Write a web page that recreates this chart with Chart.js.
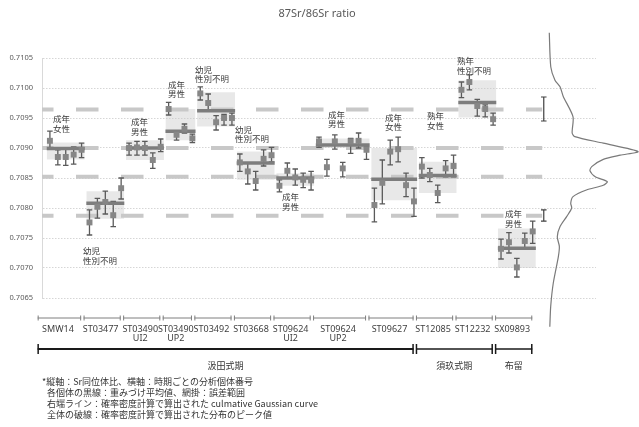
<!DOCTYPE html>
<html>
<head>
<meta charset="utf-8">
<script src="https://cdn.jsdelivr.net/npm/chart.js@4/dist/chart.umd.min.js"></script>
<style>
  html, body { margin: 0; padding: 0; background: #fff; }
  canvas { display: block; }
</style>
</head>
<body>
<canvas id="srChart" width="639" height="427"></canvas>
<script>
'use strict';

const chartTitle = '87Sr/86Sr ratio';
const yMin = 0.7065;
const yMax = 0.7105;
const yStep = 0.0005;

// specimens (one bracket each under the plot)
const groupNames = [['SMW14'], ['ST03477'], ['ST03490', 'UI2'], ['ST03490', 'UP2'], ['ST03492'], ['ST03668'],
    ['ST09624', 'UI2'], ['ST09624', 'UP2'], ['ST09627'], ['ST12085'], ['ST12232'], ['SX09893']];
const groupNotes = [['成年', '女性'], ['幼児', '性別不明'], ['成年', '男性'], ['成年', '男性'], ['幼児', '性別不明'],
    ['幼児', '性別不明'], ['成年', '男性'], ['成年', '男性'], ['成年', '女性'], ['熟年', '女性'], ['熟年', '性別不明'], ['成年', '男性']];
const groupSizes = [5, 5, 5, 4, 5, 5, 5, 7, 6, 5, 5, 5];

const periodNames = ['汲田式期', '須玖式期', '布留'];
const periodGroupCount = [9, 2, 1];

// each analysed sample, in order
const ratio = [
    0.70912, 0.70885, 0.70885, 0.70889, 0.70897,
    0.70776, 0.70802, 0.70810, 0.70788, 0.70833,
    0.70900, 0.70901, 0.70900, 0.70880, 0.70902,
    0.70965, 0.70922, 0.70932, 0.70916,
    0.70991, 0.70975, 0.70943, 0.70950, 0.70950,
    0.70876, 0.70861, 0.70845, 0.70882, 0.70888,
    0.70837, 0.70862, 0.70851, 0.70847, 0.70846,
    0.70911, 0.70868, 0.70911, 0.70866, 0.70911, 0.70912, 0.70897,
    0.70805, 0.70842, 0.70894, 0.70898, 0.70838, 0.70811,
    0.70869, 0.70855, 0.70825, 0.70866, 0.70870,
    0.70997, 0.71010, 0.70970, 0.70965, 0.70948,
    0.70732, 0.70743, 0.70701, 0.70745, 0.70761
];
const ratioLow = [
    0.70898, 0.70872, 0.70871, 0.70873, 0.70884,
    0.70755, 0.70783, 0.70790, 0.70769, 0.70815,
    0.70888, 0.70888, 0.70888, 0.70866, 0.70894,
    0.70955, 0.70913, 0.70925, 0.70909,
    0.70980, 0.70961, 0.70930, 0.70938, 0.70938,
    0.70861, 0.70840, 0.70830, 0.70870, 0.70877,
    0.70827, 0.70850, 0.70838, 0.70834, 0.70830,
    0.70901, 0.70853, 0.70898, 0.70852, 0.70891, 0.70900, 0.70881,
    0.70777, 0.70807, 0.70872, 0.70877, 0.70819, 0.70786,
    0.70850, 0.70844, 0.70809, 0.70852, 0.70852,
    0.70984, 0.70997, 0.70953, 0.70952, 0.70938,
    0.70715, 0.70725, 0.70685, 0.70733, 0.70741
];
const ratioHigh = [
    0.70928, 0.70897, 0.70898, 0.70902, 0.70908,
    0.70797, 0.70816, 0.70828, 0.70811, 0.70850,
    0.70908, 0.70911, 0.70911, 0.70892, 0.70915,
    0.70976, 0.70927, 0.70940, 0.70923,
    0.71002, 0.70990, 0.70954, 0.70956, 0.70958,
    0.70890, 0.70875, 0.70861, 0.70897, 0.70901,
    0.70847, 0.70875, 0.70865, 0.70858, 0.70861,
    0.70918, 0.70881, 0.70922, 0.70876, 0.70916, 0.70925, 0.70902,
    0.70833, 0.70880, 0.70913, 0.70918, 0.70858, 0.70833,
    0.70884, 0.70866, 0.70838, 0.70879, 0.70888,
    0.71010, 0.71022, 0.70981, 0.70972, 0.70958,
    0.70748, 0.70759, 0.70716, 0.70758, 0.70778
];

// weighted mean and its range per specimen
const groupMean = [0.70899, 0.70808, 0.70900, 0.70928, 0.70962, 0.70875, 0.70850, 0.70905, 0.70848, 0.70854, 0.70976, 0.70733];
const groupLow = [0.70881, 0.70782, 0.70880, 0.70913, 0.70936, 0.70847, 0.70837, 0.70900, 0.70813, 0.70825, 0.70951, 0.70700];
const groupHigh = [0.70909, 0.70828, 0.70913, 0.70965, 0.70993, 0.70894, 0.70858, 0.70916, 0.70900, 0.70877, 0.71013, 0.70766];

// peaks of the probability density
const peaks = [0.70964, 0.70900, 0.70852, 0.70787];
const peakLow = [0.70945, null, null, 0.70778];
const peakHigh = [0.70985, null, null, 0.70797];

// density curve on the right (relative height)
const densityRatio = [0.71092, 0.71035, 0.71013, 0.71002, 0.70986, 0.70952, 0.70925, 0.70919, 0.70908, 0.70894,
    0.70888, 0.70881, 0.70869, 0.70862, 0.70852, 0.70844, 0.70838, 0.70830, 0.70819, 0.70808, 0.70800,
    0.70786, 0.70769, 0.70752, 0.70736, 0.70719, 0.70675, 0.70636, 0.70602];
const density = [0.003, 0.02, 0.067, 0.124, 0.16, 0.27, 0.26, 0.29, 0.61, 1.0,
    0.80, 0.61, 0.48, 0.46, 0.52, 0.655, 0.61, 0.42, 0.27, 0.244, 0.255,
    0.2, 0.124, 0.093, 0.116, 0.105, 0.048, 0.019, 0.009];

const footNotes = [
    '*縦軸：Sr同位体比、横軸：時期ごとの分析個体番号',
    '各個体の黒線：重みづけ平均値、網掛：誤差範囲',
    '右端ライン：確率密度計算で算出された culmative Gaussian curve',
    '全体の破線：確率密度計算で算出された分布のピーク値'
];

// ---- layout helpers (not data) ----
const starts = [];
let acc = 0;
groupSizes.forEach(function (n) { starts.push(acc); acc += n; });
const lastIndex = acc - 1;
const PEAK_BAR_X = lastIndex + 1.4;
const PEAK_LINE_END = lastIndex + 1.2;
const NOTE_AT = [[0.38, 0.70955], [4.17, 0.70735], [10.24, 0.70950], [14.91, 0.71013], [18.32, 0.71038], [23.38, 0.70938],
    [29.32, 0.70825], [35.13, 0.70963], [42.33, 0.70958], [47.64, 0.70960], [51.43, 0.71052], [57.5, 0.70797]];

const CJK = '"Noto Sans CJK JP", "Noto Sans", sans-serif';

const boxSets = groupMean.map(function (m, g) {
    return {
        xAxisID: 'x',
        data: [{x: starts[g] - 0.4, y: groupHigh[g]}, {x: starts[g] + groupSizes[g] - 0.6, y: groupHigh[g]}],
        fill: {value: groupLow[g]},
        backgroundColor: 'rgba(200,200,200,0.42)',
        borderWidth: 0,
        pointRadius: 0,
        order: 6
    };
});

const meanData = [];
groupMean.forEach(function (m, g) {
    meanData.push({x: starts[g] - 0.4, y: m}, {x: starts[g] + groupSizes[g] - 0.6, y: m}, {x: starts[g], y: null});
});

const errData = [];
ratio.forEach(function (v, i) {
    errData.push({x: i, y: ratioLow[i]}, {x: i, y: ratioHigh[i]}, {x: i, y: null});
    errData.push({x: i - 0.35, y: ratioLow[i]}, {x: i + 0.35, y: ratioLow[i]}, {x: i, y: null});
    errData.push({x: i - 0.35, y: ratioHigh[i]}, {x: i + 0.35, y: ratioHigh[i]}, {x: i, y: null});
});

const peakLineData = [];
const peakBarData = [];
peaks.forEach(function (p, k) {
    peakLineData.push({x: -1, y: p}, {x: PEAK_LINE_END, y: p}, {x: 0, y: null});
    if (peakLow[k] !== null) {
        peakBarData.push({x: PEAK_BAR_X, y: peakLow[k]}, {x: PEAK_BAR_X, y: peakHigh[k]}, {x: 0, y: null});
        peakBarData.push({x: PEAK_BAR_X - 0.35, y: peakLow[k]}, {x: PEAK_BAR_X + 0.35, y: peakLow[k]}, {x: 0, y: null});
        peakBarData.push({x: PEAK_BAR_X - 0.35, y: peakHigh[k]}, {x: PEAK_BAR_X + 0.35, y: peakHigh[k]}, {x: 0, y: null});
    }
});

const decor = {
    id: 'decor',
    afterDraw: function (chart) {
        const ctx = chart.ctx;
        const x = chart.scales.x;
        const y = chart.scales.y;
        ctx.save();

        ctx.font = '11px "Noto Sans", sans-serif';
        ctx.fillStyle = '#595959';
        ctx.textAlign = 'center';
        ctx.textBaseline = 'middle';
        ctx.fillText(chartTitle, 317, 14);

        // notes next to each specimen
        ctx.font = '8.5px ' + CJK;
        ctx.fillStyle = '#3a3a3a';
        ctx.textAlign = 'left';
        ctx.textBaseline = 'top';
        groupNotes.forEach(function (lines, g) {
            const px = x.getPixelForValue(NOTE_AT[g][0]);
            const py = y.getPixelForValue(NOTE_AT[g][1]);
            lines.forEach(function (t, j) { ctx.fillText(t, px, py + j * 9.5); });
        });

        // specimen brackets
        const rowY = 318;
        const segA = [];
        const segB = [];
        ctx.strokeStyle = '#7f7f7f';
        ctx.lineWidth = 1;
        ctx.font = '9px "Noto Sans", sans-serif';
        ctx.fillStyle = '#404040';
        ctx.textAlign = 'center';
        ctx.textBaseline = 'middle';
        groupSizes.forEach(function (n, g) {
            const a = x.getPixelForValue(g === 0 ? x.min - 0.7 : starts[g] - 0.9) + 1.2;
            const b = x.getPixelForValue(starts[g] + n - 0.9) - 1.2;
            segA.push(a);
            segB.push(b);
            ctx.beginPath();
            ctx.moveTo(a, rowY); ctx.lineTo(b, rowY);
            ctx.moveTo(a + 0.5, rowY - 2.5); ctx.lineTo(a + 0.5, rowY + 2.5);
            ctx.moveTo(b - 0.5, rowY - 2.5); ctx.lineTo(b - 0.5, rowY + 2.5);
            ctx.stroke();
            groupNames[g].forEach(function (t, j) {
                ctx.fillText(t, (a + b) / 2 - 1.5, 329 + j * 9.5);
            });
        });

        // period brackets
        const perY = 349;
        let gi = 0;
        ctx.strokeStyle = '#1a1a1a';
        ctx.font = '9px ' + CJK;
        ctx.fillStyle = '#333333';
        periodNames.forEach(function (name, k) {
            const a = segA[gi];
            const b = segB[gi + periodGroupCount[k] - 1];
            gi += periodGroupCount[k];
            ctx.lineWidth = k === 0 ? 2.2 : 1.5;
            ctx.beginPath();
            ctx.moveTo(a, perY); ctx.lineTo(b, perY);
            ctx.stroke();
            ctx.lineWidth = 1.5;
            ctx.beginPath();
            ctx.moveTo(a + 0.5, perY - 5); ctx.lineTo(a + 0.5, perY + 5);
            ctx.moveTo(b - 0.5, perY - 5); ctx.lineTo(b - 0.5, perY + 5);
            ctx.stroke();
            ctx.fillText(name, (a + b) / 2, 366);
        });

        // footnote
        ctx.font = '9px ' + CJK;
        ctx.fillStyle = '#333333';
        ctx.textAlign = 'left';
        footNotes.forEach(function (t, j) {
            ctx.fillText(t, j === 0 ? 42 : 47, 382 + j * 10.7);
        });
        ctx.restore();
    }
};

const srChart = new Chart(document.getElementById('srChart').getContext('2d'), {
    type: 'line',
    data: {
        datasets: boxSets.concat([
            {
                xAxisID: 'x',
                data: peakLineData,
                borderColor: '#c8c8c8',
                borderWidth: 4,
                borderDash: [22.5, 22.5],
                borderDashOffset: 11,
                pointRadius: 0,
                fill: false,
                order: 7
            },
            {
                xAxisID: 'x',
                data: errData,
                borderColor: '#5a5a5a',
                borderWidth: 1.3,
                pointRadius: 0,
                fill: false,
                order: 4
            },
            {
                xAxisID: 'x',
                data: meanData,
                borderColor: '#7d7d7d',
                borderWidth: 3.5,
                pointRadius: 0,
                fill: false,
                order: 3
            },
            {
                xAxisID: 'x',
                data: ratio.map(function (v, i) { return {x: i, y: v}; }),
                showLine: false,
                pointStyle: 'rect',
                pointRadius: 4.2,
                pointBorderWidth: 0,
                pointBackgroundColor: '#868686',
                order: 2
            },
            {
                xAxisID: 'x',
                data: peakBarData,
                borderColor: '#404040',
                borderWidth: 1.2,
                pointRadius: 0,
                fill: false,
                order: 2
            },
            {
                xAxisID: 'xd',
                data: density.map(function (d, i) { return {x: d, y: densityRatio[i]}; }),
                borderColor: '#7a7a7a',
                borderWidth: 1.2,
                pointRadius: 0,
                tension: 0.25,
                fill: false,
                clip: false,
                order: 1
            }
        ])
    },
    options: {
        responsive: false,
        animation: false,
        events: [],
        layout: {padding: {top: 58, right: 43, bottom: 129, left: 0}},
        plugins: {
            legend: {display: false},
            tooltip: {enabled: false},
            title: {display: false}
        },
        scales: {
            x: {type: 'linear', min: -1, max: 69, display: false},
            xd: {type: 'linear', min: -5.698, max: 0.528, display: false},
            y: {
                type: 'linear',
                min: yMin,
                max: yMax,
                afterFit: function (s) {
                    s.width = 42;
                    s.paddingTop = 0;
                    s.paddingBottom = 0;
                },
                ticks: {
                    stepSize: yStep,
                    padding: 9,
                    color: '#595959',
                    font: {family: '"Noto Sans", sans-serif', size: 7.5},
                    callback: function (v) { return Number(v).toFixed(4); }
                },
                grid: {color: '#d6d6d6', drawTicks: false, lineWidth: 1},
                border: {display: true, color: '#d9d9d9', dash: [1.5, 1.5]}
            }
        }
    },
    plugins: [decor]
});
</script>
</body>
</html>
